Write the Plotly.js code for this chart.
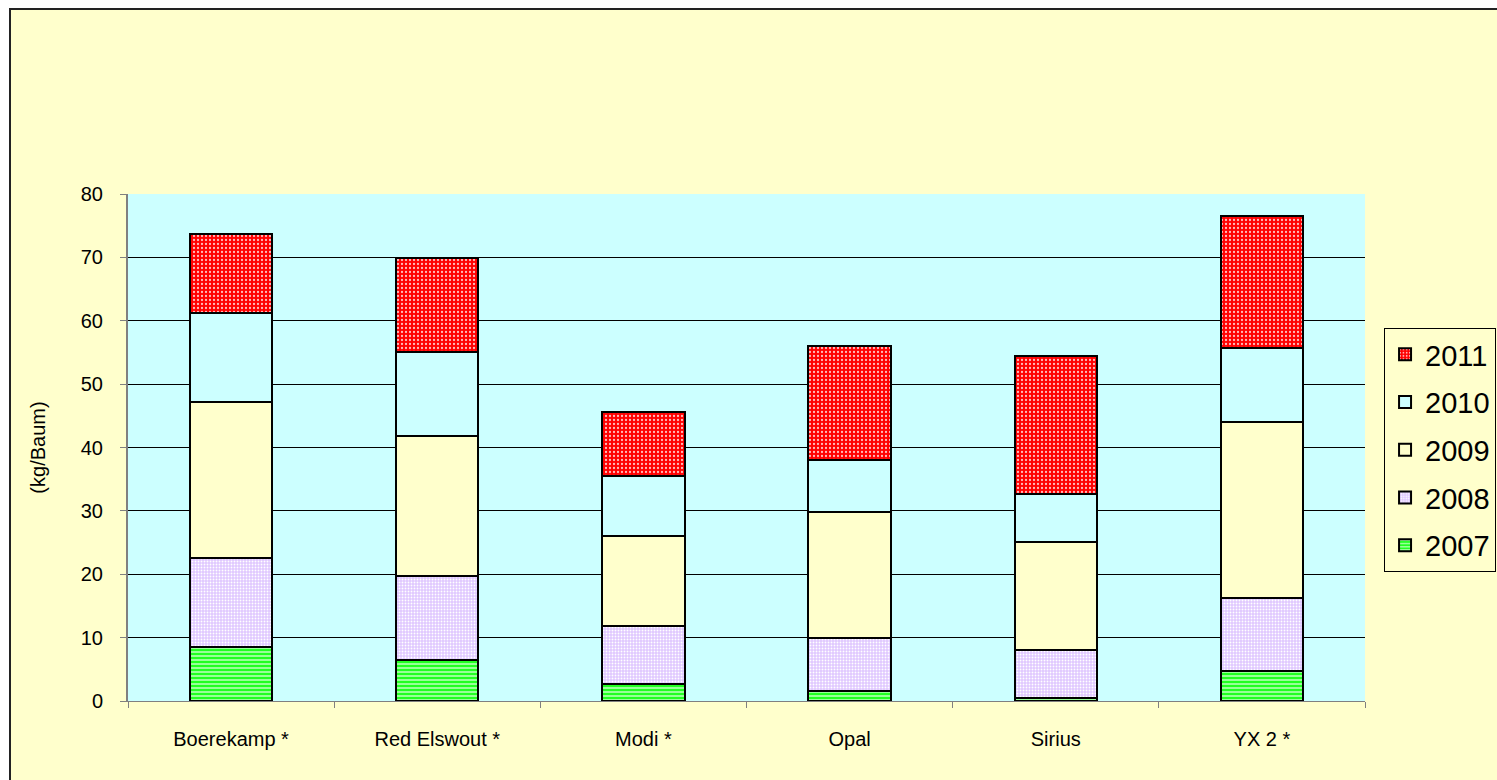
<!DOCTYPE html>
<html>
<head>
<meta charset="utf-8">
<script src="https://cdn.plot.ly/plotly-3.0.1.min.js"></script>
<style>
  html, body { margin: 0; padding: 0; background: #ffffff; overflow: hidden; width: 1497px; height: 780px; }
  #frame { position: absolute; left: 9px; top: 8px; border-left: 2px solid #222; border-top: 2px solid #222; width: 1500px; height: 780px; background: #FFFFCC; }
  #chart { width: 1500px; height: 770px; }
</style>
</head>
<body>
<div id="frame"><div id="chart"></div></div>
<script>
const categories = ["Boerekamp *", "Red Elswout *", "Modi *", "Opal", "Sirius", "YX 2 *"];
const years = ["2007", "2008", "2009", "2010", "2011"];
const v2007 = [8.5, 6.5, 2.7, 1.5, 0.5, 4.7];
const v2008 = [14.1, 13.2, 9.1, 8.5, 7.6, 11.6];
const v2009 = [24.6, 22.1, 14.3, 19.8, 17.0, 27.8];
const v2010 = [14.1, 13.3, 9.4, 8.2, 7.5, 11.6];
const v2011 = [12.4, 14.8, 10.1, 18.0, 21.8, 20.9];
const yTicks = [0, 10, 20, 30, 40, 50, 60, 70, 80];

const seriesValues = [v2007, v2008, v2009, v2010, v2011];
const styles = [
  {color: '#33FF33', pattern: {shape: '-', bgcolor: '#22FF22', fgcolor: '#CCFFCC', size: 4, solidity: 0.35, fillmode: 'replace'}},
  {color: '#E6CCFF', pattern: {shape: '.', bgcolor: '#E0C8FF', fgcolor: '#FFFFFF', size: 3, solidity: 0.3, fillmode: 'replace'}},
  {color: '#FFFFCC'},
  {color: '#CCFFFF'},
  {color: '#FF0000', pattern: {shape: '.', bgcolor: '#FF0000', fgcolor: '#FFBBBB', size: 4, solidity: 0.25, fillmode: 'replace'}}
];

const traces = years.map((yr, i) => {
  const m = {color: styles[i].color, line: {color: '#000000', width: 2}};
  if (styles[i].pattern) m.pattern = styles[i].pattern;
  return {
    type: 'bar',
    name: yr,
    x: categories,
    y: seriesValues[i],
    marker: m,
    legendgroup: 'g' + yr,
    legendrank: 1000 - i,
    hoverinfo: 'x+y+name'
  };
});

const layout = {
  width: 1500,
  height: 770,
  barmode: 'stack',
  bargap: 0.6,
  paper_bgcolor: '#FFFFCC',
  plot_bgcolor: '#CCFFFF',
  margin: {l: 117, r: 146, t: 184, b: 79, pad: 0},
  font: {family: 'Liberation Sans, Arial, sans-serif', color: '#000000', size: 20},
  showlegend: true,
  legend: {
    x: 1.0154, y: 0.7357, xanchor: 'left', yanchor: 'top',
    bgcolor: '#FFFFCC', bordercolor: '#000000', borderwidth: 1,
    font: {size: 29, family: 'Liberation Sans, Arial, sans-serif'},
    traceorder: 'grouped',
    tracegroupgap: 7,
    itemwidth: 30
  },
  xaxis: {
    type: 'category',
    showline: true, linecolor: '#808080', linewidth: 1,
    ticks: 'outside', ticklen: 6, tickcolor: '#808080',
    tickson: 'boundaries',
    showgrid: false,
    ticklabelstandoff: 20,
    tickfont: {size: 20}
  },
  yaxis: {
    range: [0, 80],
    tickvals: yTicks,
    ticktext: yTicks.map(String),
    showline: true, linecolor: '#808080', linewidth: 2,
    ticks: 'outside', ticklen: 6, tickcolor: '#808080',
    showgrid: true, gridcolor: '#000000', gridwidth: 1,
    zeroline: false,
    ticklabelstandoff: 13,
    tickfont: {size: 20},
    title: {text: '(kg/Baum)', font: {size: 20}, standoff: 30}
  }
};

Plotly.newPlot('chart', traces, layout, {displayModeBar: false, staticPlot: true});
</script>
</body>
</html>
